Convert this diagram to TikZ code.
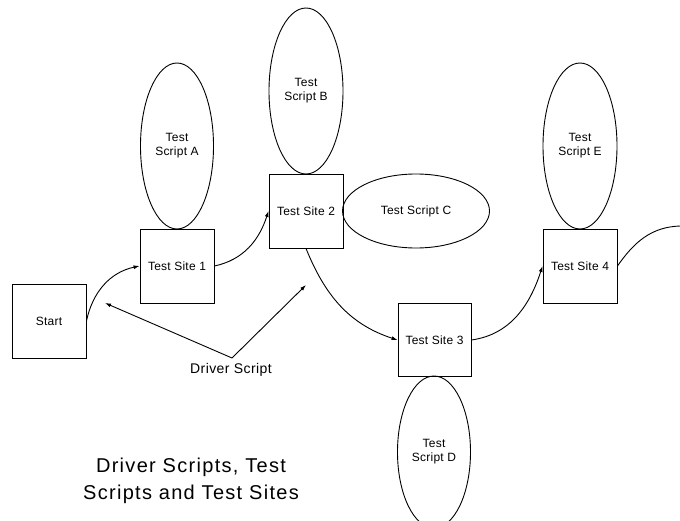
\documentclass[tikz,border=0pt]{standalone}
\usepackage{fontspec}
\setmainfont{Liberation Sans}[LetterSpace=2]
\usetikzlibrary{shapes.geometric,arrows.meta}
\begin{document}
\begin{tikzpicture}[x=1pt,y=1pt,
  site/.style={draw, line width=0.9pt, minimum width=74pt, minimum height=74pt, inner sep=0pt, font=\fontsize{12}{14}\selectfont},
  script/.style={draw, ellipse, line width=0.9pt, inner sep=0pt, align=center, font=\fontsize{12}{14}\selectfont},
  flow/.style={line width=0.9pt, -{Latex[length=6pt,width=4pt]}},
  plain/.style={line width=0.9pt}
]
\useasboundingbox (0,0) rectangle (680,520);
% sites
\node[site] (start) at (49,199) {Start};
\node[site] (ts1) at (177,254) {Test Site 1};
\node[site] (ts2) at (306,309) {Test Site 2};
\node[site, minimum width=73pt, minimum height=73pt] (ts3) at (434.5,180) {Test Site 3};
\node[site] (ts4) at (580,254) {Test Site 4};
% scripts
\node[script, minimum width=73pt, minimum height=166pt] (sa) at (177,374) {Test\\Script A};
\node[script, minimum width=74pt, minimum height=166pt] (sb) at (306,429) {Test\\Script B};
\node[script, minimum width=147pt, minimum height=74pt] (sc) at (416,309) {Test Script C};
\node[script, minimum width=73pt, minimum height=152pt] (sd) at (434,68) {Test\\Script D};
\node[script, minimum width=74pt, minimum height=166pt] (se) at (580,374) {Test\\Script E};
% flow
\draw[flow] (start.east) to[out=78, in=192] (ts1.west);
\draw[flow] (ts1.east) to[out=12, in=252] (ts2.west);
\draw[flow] (ts2.south) to[out=-68, in=162] (ts3.west);
\draw[flow] (ts3.east) to[out=8, in=252] (ts4.west);
\coordinate (exit) at (680,294);
\draw[plain] (ts4.east) to[out=55, in=182] (exit);
% driver script
\node[font=\fontsize{14}{16}\selectfont\addfontfeatures{LetterSpace=3}] (drv) at (231,150) {Driver Script};
\coordinate (v) at (232,162);
\coordinate (t1) at (105,217);
\coordinate (t2) at (306,235);
\draw[flow] (v) -- (t1);
\draw[flow] (v) -- (t2);
% title
\node[align=center, font=\fontsize{20}{27}\selectfont\addfontfeatures{LetterSpace=6.5}] (title) at (191,39) {Driver Scripts, Test\\Scripts and Test Sites};
\end{tikzpicture}
\end{document}
